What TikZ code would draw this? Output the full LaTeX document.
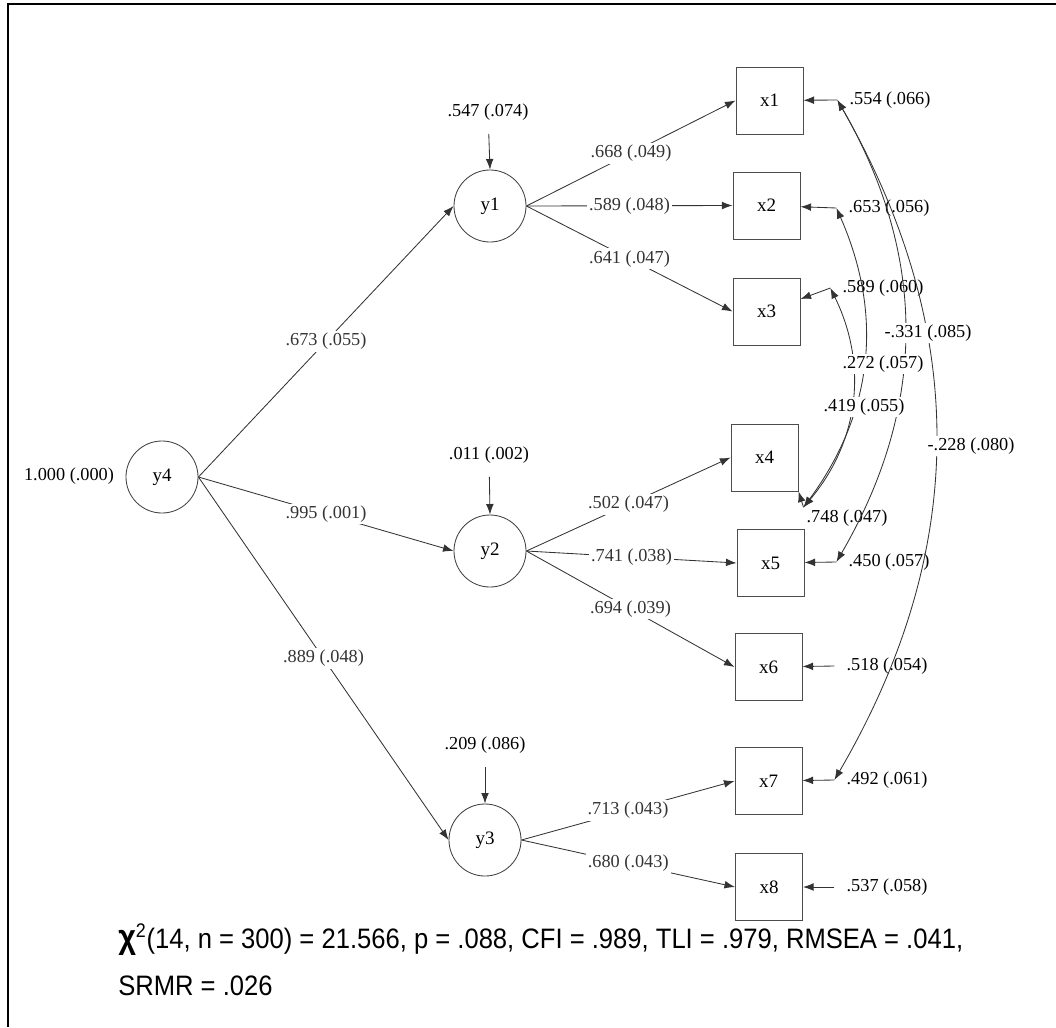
\documentclass[tikz,border=0pt]{standalone}
\usepackage{fontspec}
\setmainfont{Liberation Serif}
\newfontfamily\statfont{Liberation Sans}
\usepackage{graphicx}
\usetikzlibrary{arrows.meta, positioning, calc}

\begin{document}
\begin{tikzpicture}[
      x=0.025cm, y=-0.025cm,
      latent/.style={circle, draw=black!75, line width=0.6pt, minimum size=1.8cm, inner sep=0pt, font=\fontsize{13.5}{15}\selectfont},
      ind/.style={rectangle, draw=black!70, line width=0.7pt, minimum size=1.675cm, inner sep=0pt, font=\fontsize{13.5}{15}\selectfont},
      lbl/.style={fill=white, inner sep=1.5pt, font=\fontsize{13}{15}\selectfont},
      err/.style={inner xsep=8.5pt, inner ysep=1.5pt, font=\fontsize{13}{15}\selectfont},
      arr/.style={-{Latex[length=7.5pt, width=5.5pt]}, line width=0.6pt, black!80},
      cov/.style={{Latex[length=7.5pt, width=5.5pt]}-{Latex[length=7.5pt, width=5.5pt]}, line width=0.6pt, black!80},
      stat/.style={font=\statfont\fontsize{20}{24}\selectfont, inner sep=0pt}
    ]
      \useasboundingbox (0,0) rectangle (1056,1027);
      \draw[line width=1.6pt] (8,1027) -- (8,4) -- (1056,4);

      % latent factors
      \node[latent] (y4) at (162,477) {y4};
      \node[latent] (y1) at (490,206) {y1};
      \node[latent] (y2) at (490,551) {y2};
      \node[latent] (y3) at (485,840) {y3};

      % indicators
      \node[ind] (x1) at (769.5,100.5) {x1};
      \node[ind] (x2) at (766.5,205.5) {x2};
      \node[ind] (x3) at (766.5,311.5) {x3};
      \node[ind] (x4) at (764.5,457.5) {x4};
      \node[ind] (x5) at (770.5,563) {x5};
      \node[ind] (x6) at (768.5,667) {x6};
      \node[ind] (x7) at (768.5,781) {x7};
      \node[ind] (x8) at (769,887) {x8};

      % variances of the factors
      \node[lbl] (v4) at (69,476) {1.000 (.000)};
      \node[lbl] (d1) at (488,112) {.547 (.074)};
      \node[lbl] (d2) at (489,455) {.011 (.002)};
      \node[lbl] (d3) at (485,745) {.209 (.086)};
      \draw[arr, shorten <=8pt] (d1) -- (y1.north);
      \draw[arr, shorten <=8pt] (d2) -- (y2.north);
      \draw[arr, shorten <=8pt] (d3) -- (y3.north);

      % residuals of the indicators
      \node[err] (e1) at (890,100) {.554 (.066)};
      \node[err] (e2) at (889,208) {.653 (.056)};
      \node[err] (e3) at (883,288) {.589 (.060)};
      \node[err, inner xsep=2pt] (e4) at (847,518) {.748 (.047)};
      \node[err] (e5) at (889,562) {.450 (.057)};
      \node[err] (e6) at (887,666) {.518 (.054)};
      \node[err] (e7) at (887,780) {.492 (.061)};
      \node[err] (e8) at (887,887) {.537 (.058)};
      \draw[arr] (e1.west) -- (x1);
      \draw[arr] (e2.west) -- (x2);
      \draw[arr] (e3.west) -- (x3);
      \draw[arr] (e4.north west) -- (x4.south east);
      \draw[arr] (e5.west) -- (x5);
      \draw[arr] (e6.west) -- (x6);
      \draw[arr] (e7.west) -- (x7);
      \draw[arr] (e8.west) -- (x8);

      % second order loadings
      \draw[arr] (y4.east) -- node[lbl] {.673 (.055)} (y1.west);
      \draw[arr] (y4.east) -- node[lbl] {.995 (.001)} (y2.west);
      \draw[arr] (y4.east) -- node[lbl] {.889 (.048)} (y3.west);

      % first order loadings
      \draw[arr] (y1.east) -- node[lbl] {.668 (.049)} (x1.west);
      \draw[arr] (y1.east) -- node[lbl] {.589 (.048)} (x2.west);
      \draw[arr] (y1.east) -- node[lbl] {.641 (.047)} (x3.west);
      \draw[arr] (y2.east) -- node[lbl] {.502 (.047)} (x4.west);
      \draw[arr] (y2.east) -- node[lbl] {.741 (.038)} (x5.west);
      \draw[arr] (y2.east) -- node[lbl] {.694 (.039)} (x6.west);
      \draw[arr] (y3.east) -- node[lbl] {.713 (.043)} (x7.west);
      \draw[arr] (y3.east) -- node[lbl] {.680 (.043)} (x8.west);

      % residual covariances
      \draw[cov] (e1.west) to[bend left=30] (e7.west);
      \draw[cov] (e1.west) to[bend left=30] (e5.west);
      \draw[cov] (e2.west) to[bend left=30] (e4.north west);
      \draw[cov] (e3.west) to[bend left=33] (e4.north west);
      \node[lbl] (r17) at (971,446) {-.228 (.080)};
      \node[lbl] (r15) at (928,333) {-.331 (.085)};
      \node[lbl] (r24) at (883,364) {.272 (.057)};
      \node[lbl] (r34) at (864,407) {.419 (.055)};

      % fit indices
      \node[stat, anchor=base west] (fit1) at (118,948) {\scalebox{0.91}[1]{{\bfseries\fontsize{24}{24}\selectfont χ}\textsuperscript{2}(14, n = 300) = 21.566, p = .088, CFI = .989, TLI = .979, RMSEA = .041,}};
      \node[stat, anchor=base west] (fit2) at (118,995) {\scalebox{0.91}[1]{SRMR = .026}};
    \end{tikzpicture}
\end{document}
